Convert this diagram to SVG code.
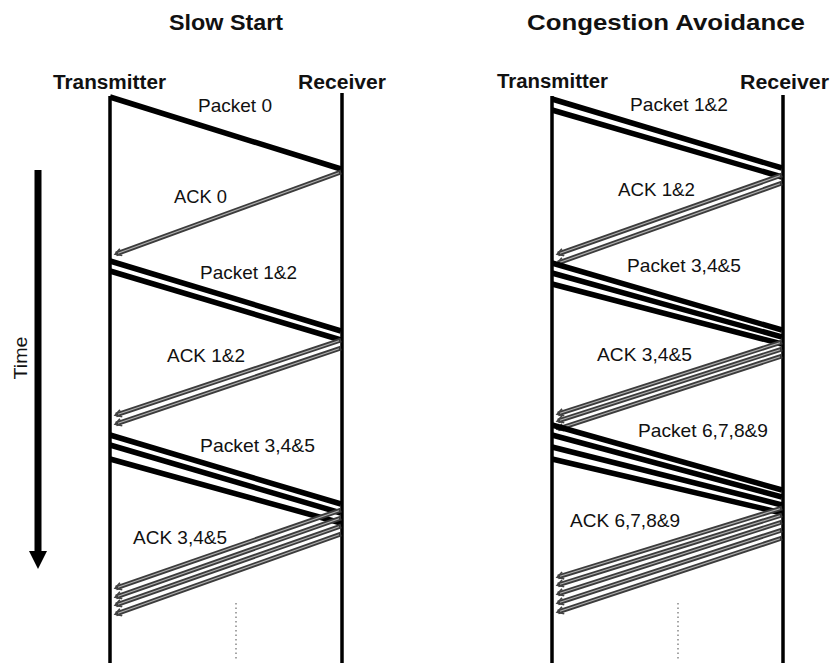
<svg xmlns="http://www.w3.org/2000/svg" width="832" height="663" viewBox="0 0 832 663">
<style>
text{font-family:"Liberation Sans",Arial,sans-serif;fill:#111}
.title{font-size:22px;font-weight:bold}
.role{font-size:20px;font-weight:bold}
.lbl{font-size:19px}
.life{stroke:#000;stroke-width:3.5;fill:none}
.pkt{stroke:#000;stroke-width:5.5;fill:none;stroke-linecap:butt}
.ack{stroke:#3c3c3c;stroke-width:4.8;fill:none;marker-end:url(#ah)}
.ackin{stroke:#b0b0b0;stroke-width:1.2;fill:none}
.dots{stroke:#888;stroke-width:1.5;stroke-dasharray:1.5 3;fill:none}
</style>
<defs>
<marker id="ah" viewBox="0 0 10 10" refX="7" refY="5" markerWidth="9" markerHeight="9" markerUnits="userSpaceOnUse" orient="auto">
<path d="M1,1 L8,5 L1,9" fill="none" stroke="#444" stroke-width="1.8"/>
</marker>
<marker id="th" viewBox="0 0 10 10" refX="5" refY="5" markerWidth="18" markerHeight="18" markerUnits="userSpaceOnUse" orient="auto">
<path d="M0,0 L10,5 L0,10 Z" fill="#000"/>
</marker>
</defs>
<rect width="832" height="663" fill="#fff"/>

<g id="title-slow-start"><text class="title" x="169" y="30" textLength="114" lengthAdjust="spacingAndGlyphs">Slow Start</text></g>
<g id="title-congestion-avoidance"><text class="title" x="527" y="30" textLength="278" lengthAdjust="spacingAndGlyphs">Congestion Avoidance</text></g>

<g id="time-axis">
<line x1="38" y1="170" x2="38" y2="560" stroke="#000" stroke-width="7" marker-end="url(#th)"/>
<text class="lbl" transform="translate(27,358) rotate(-90)" text-anchor="middle" textLength="43" lengthAdjust="spacingAndGlyphs">Time</text>
</g>

<g id="ss-transmitter">
<line class="life" x1="110" y1="96" x2="110" y2="663"/>
<text class="role" x="53" y="89" textLength="113" lengthAdjust="spacingAndGlyphs">Transmitter</text>
</g>
<g id="ss-receiver">
<line class="life" x1="342" y1="93" x2="342" y2="663"/>
<text class="role" x="298" y="89" textLength="88" lengthAdjust="spacingAndGlyphs">Receiver</text>
</g>
<g id="ca-transmitter">
<line class="life" x1="552" y1="96" x2="552" y2="663"/>
<text class="role" x="497" y="88" textLength="111" lengthAdjust="spacingAndGlyphs">Transmitter</text>
</g>
<g id="ca-receiver">
<line class="life" x1="783" y1="95" x2="783" y2="663"/>
<text class="role" x="740" y="89" textLength="89" lengthAdjust="spacingAndGlyphs">Receiver</text>
</g>

<g id="connectors">
<!-- Slow start -->
<line class="pkt" x1="110" y1="97" x2="341" y2="169"/>
<line class="ack" x1="341" y1="172" x2="116" y2="254"/>
<line class="ackin" x1="339" y1="172.7" x2="118" y2="253.3"/>

<line class="pkt" x1="110" y1="261" x2="341" y2="331"/>
<line class="pkt" x1="110" y1="271" x2="341" y2="340"/>
<line class="ack" x1="341" y1="340" x2="116" y2="415"/>
<line class="ackin" x1="339" y1="340.7" x2="118" y2="414.3"/>
<line class="ack" x1="341" y1="348" x2="116" y2="424"/>
<line class="ackin" x1="339" y1="348.7" x2="118" y2="423.3"/>

<line class="pkt" x1="110" y1="435" x2="341" y2="504"/>
<line class="pkt" x1="110" y1="445" x2="341" y2="513"/>
<line class="pkt" x1="110" y1="459" x2="341" y2="523"/>
<line class="ack" x1="341" y1="510" x2="116" y2="588"/>
<line class="ackin" x1="339" y1="510.7" x2="118" y2="587.3"/>
<line class="ack" x1="341" y1="518" x2="116" y2="597"/>
<line class="ackin" x1="339" y1="518.7" x2="118" y2="596.3"/>
<line class="ack" x1="341" y1="526" x2="116" y2="605"/>
<line class="ackin" x1="339" y1="526.7" x2="118" y2="604.3"/>
<line class="ack" x1="341" y1="534" x2="116" y2="614"/>
<line class="ackin" x1="339" y1="534.7" x2="118" y2="613.3"/>

<line class="dots" x1="236" y1="603" x2="236" y2="660"/>

<!-- Congestion avoidance -->
<line class="pkt" x1="552" y1="99" x2="782" y2="168"/>
<line class="pkt" x1="552" y1="110" x2="782" y2="177"/>
<line class="ack" x1="782" y1="175" x2="558" y2="254"/>
<line class="ackin" x1="780" y1="175.7" x2="560" y2="253.3"/>
<line class="ack" x1="782" y1="183" x2="558" y2="263"/>
<line class="ackin" x1="780" y1="183.7" x2="560" y2="262.3"/>

<line class="pkt" x1="552" y1="263" x2="782" y2="330"/>
<line class="pkt" x1="552" y1="273" x2="782" y2="337"/>
<line class="pkt" x1="552" y1="284" x2="782" y2="344"/>
<line class="ack" x1="782" y1="342" x2="558" y2="414"/>
<line class="ackin" x1="780" y1="342.7" x2="560" y2="413.3"/>
<line class="ack" x1="782" y1="349" x2="558" y2="421"/>
<line class="ackin" x1="780" y1="349.7" x2="560" y2="420.3"/>
<line class="ack" x1="782" y1="356" x2="558" y2="429"/>
<line class="ackin" x1="780" y1="356.7" x2="560" y2="428.3"/>

<line class="pkt" x1="552" y1="425" x2="782" y2="490"/>
<line class="pkt" x1="552" y1="435" x2="782" y2="497"/>
<line class="pkt" x1="552" y1="447" x2="782" y2="505"/>
<line class="pkt" x1="552" y1="459" x2="782" y2="513"/>
<line class="ack" x1="782" y1="508" x2="558" y2="577"/>
<line class="ackin" x1="780" y1="508.7" x2="560" y2="576.3"/>
<line class="ack" x1="782" y1="515" x2="558" y2="585"/>
<line class="ackin" x1="780" y1="515.7" x2="560" y2="584.3"/>
<line class="ack" x1="782" y1="522" x2="558" y2="594"/>
<line class="ackin" x1="780" y1="522.7" x2="560" y2="593.3"/>
<line class="ack" x1="782" y1="530" x2="558" y2="603"/>
<line class="ackin" x1="780" y1="530.7" x2="560" y2="602.3"/>
<line class="ack" x1="782" y1="538" x2="558" y2="612"/>
<line class="ackin" x1="780" y1="538.7" x2="560" y2="611.3"/>

<line class="dots" x1="678" y1="603" x2="678" y2="660"/>
</g>

<g id="labels">
<text class="lbl" x="198" y="112" textLength="74" lengthAdjust="spacingAndGlyphs">Packet 0</text>
<text class="lbl" x="174" y="203" textLength="53" lengthAdjust="spacingAndGlyphs">ACK 0</text>
<text class="lbl" x="200" y="279" textLength="97" lengthAdjust="spacingAndGlyphs">Packet 1&amp;2</text>
<text class="lbl" x="167" y="362" textLength="78" lengthAdjust="spacingAndGlyphs">ACK 1&amp;2</text>
<text class="lbl" x="200" y="452" textLength="115" lengthAdjust="spacingAndGlyphs">Packet 3,4&amp;5</text>
<text class="lbl" x="133" y="544" textLength="94" lengthAdjust="spacingAndGlyphs">ACK 3,4&amp;5</text>
<text class="lbl" x="630" y="111" textLength="98" lengthAdjust="spacingAndGlyphs">Packet 1&amp;2</text>
<text class="lbl" x="618" y="196" textLength="77" lengthAdjust="spacingAndGlyphs">ACK 1&amp;2</text>
<text class="lbl" x="627" y="272" textLength="114" lengthAdjust="spacingAndGlyphs">Packet 3,4&amp;5</text>
<text class="lbl" x="597" y="361" textLength="95" lengthAdjust="spacingAndGlyphs">ACK 3,4&amp;5</text>
<text class="lbl" x="638" y="437" textLength="130" lengthAdjust="spacingAndGlyphs">Packet 6,7,8&amp;9</text>
<text class="lbl" x="570" y="527" textLength="110" lengthAdjust="spacingAndGlyphs">ACK 6,7,8&amp;9</text>
</g>
</svg>
